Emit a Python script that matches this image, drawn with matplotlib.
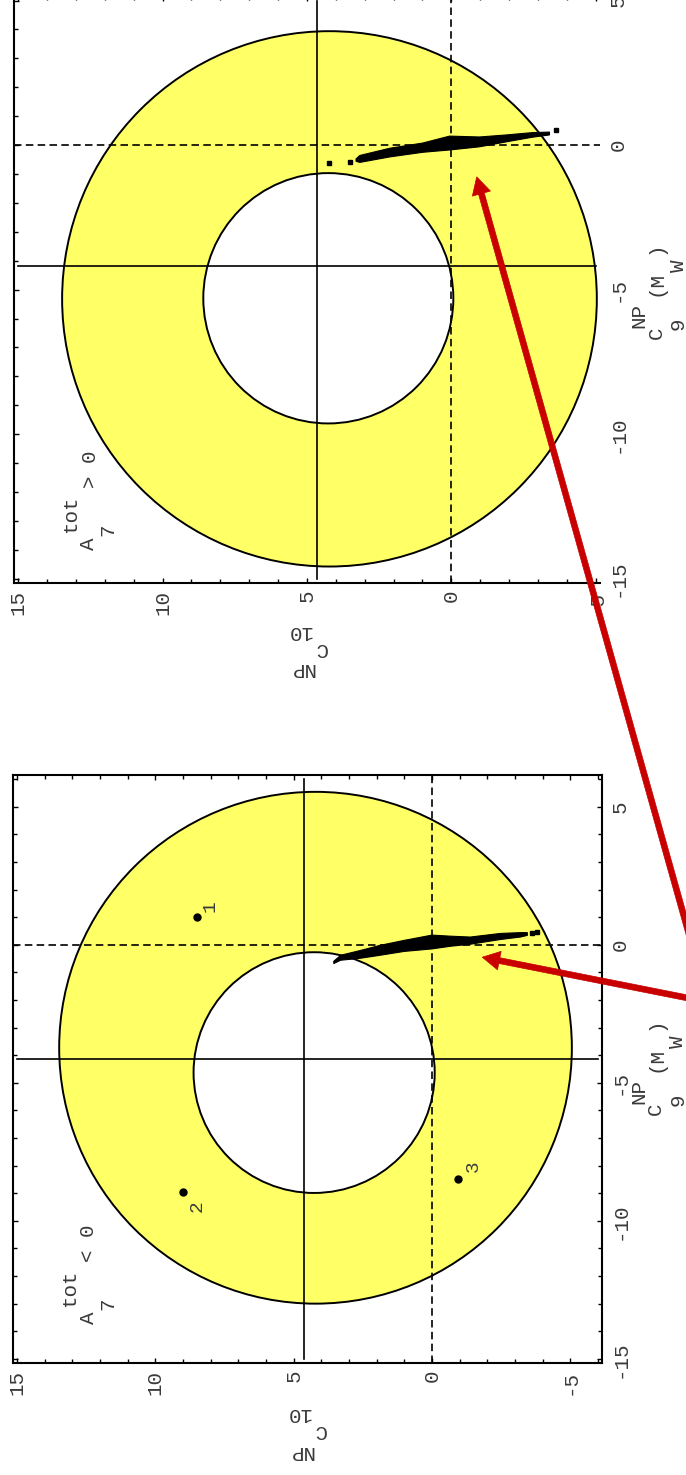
import numpy as np
import matplotlib
matplotlib.use("Agg")
import matplotlib.pyplot as plt
from matplotlib.patches import Circle, Polygon, ArrowStyle
from matplotlib.ticker import FixedLocator, MultipleLocator

plt.rcParams['font.family'] = ['Liberation Mono', 'DejaVu Sans Mono']
plt.rcParams['axes.unicode_minus'] = False

# ---- axis ticks -------------------------------------------------------
c9_ticks = [-15, -10, -5, 0, 5]
c10_ticks = [15, 10, 5, 0, -5]

# ---- panel with A7tot < 0 (lower) -------------------------------------
neg_c10_range = [-6, 15]
neg_c9_range = [-15, 6]
neg_outer = (4.21, -3.73, 9.27)      # (C10, C9, radius)
neg_inner = (4.26, -4.63, 4.36)
neg_sm = (4.63, -4.15)               # solid cross lines (C10, C9)
neg_band_c10 = [3.55, 3.3, 2.6, 1.87, 1.0, 0.0, -0.7, -1.39, -2.47, -3.2, -3.45]
neg_band_c9 = [-0.64, -0.47, -0.35, -0.2, -0.04, 0.1, 0.13, 0.15, 0.3, 0.36, 0.39]
neg_band_hw = [0.04, 0.09, 0.14, 0.18, 0.2, 0.25, 0.18, 0.13, 0.11, 0.08, 0.05]
neg_dots_c10 = [-3.62, -3.8]
neg_dots_c9 = [0.42, 0.46]
bench_c10 = [8.51, 9.0, -0.96]
bench_c9 = [0.99, -8.96, -8.5]
bench_names = ['1', '2', '3']
bench_offsets = [(10, 8.5), (10, -10), (11, 9.5)]

# ---- panel with A7tot > 0 (upper) -------------------------------------
pos_c10_range = [-5, 15]
pos_c9_range = [-15, 5]
pos_outer = (4.22, -5.32, 9.26)
pos_inner = (4.26, -5.3, 4.33)
pos_sm = (4.64, -4.2)
pos_band_c10 = [3.3, 3.17, 2.13, 0.99, 0.06, -0.98, -1.9, -2.8, -3.4]
pos_band_c9 = [-0.52, -0.48, -0.26, -0.09, 0.07, 0.11, 0.23, 0.35, 0.4]
pos_band_hw = [0.04, 0.12, 0.15, 0.16, 0.24, 0.17, 0.12, 0.08, 0.05]
pos_dots_c10 = [4.24, 3.5, -3.64]
pos_dots_c9 = [-0.62, -0.6, 0.52]

YELLOW = '#ffff66'
TXT = '#3a3a3a'
RED = '#c80000'
FS = 15

fig = plt.figure(figsize=(6.86, 14.75), dpi=100)
W, H = 686.0, 1475.0


def add_axes_px(left, top, right, bottom):
    return fig.add_axes([left / W, (H - bottom) / H, (right - left) / W, (bottom - top) / H])


def draw_panel(ax, c10_range, c9_range, outer, inner, sm, bc10, bc9, bhw,
               dc10, dc9, right_frame=True):
    pad = 0.15
    ax.set_xlim(c10_range[1] + pad, c10_range[0] - pad)
    ax.set_ylim(c9_range[0] - pad, c9_range[1] + pad)

    ax.add_patch(Circle((outer[0], outer[1]), outer[2], facecolor=YELLOW,
                        edgecolor='black', lw=1.4, zorder=1))
    ax.add_patch(Circle((inner[0], inner[1]), inner[2], facecolor='white',
                        edgecolor='black', lw=1.4, zorder=2))

    ax.plot([sm[0], sm[0]], c9_range, color='black', lw=1.2, zorder=3)
    ax.plot(c10_range, [sm[1], sm[1]], color='black', lw=1.2, zorder=3)
    dash = (0, (4.5, 2.6))
    ax.axhline(0, color='black', lw=1.2, ls=dash, zorder=3)
    ax.axvline(0, color='black', lw=1.2, ls=dash, zorder=3)

    bc10 = np.asarray(bc10)
    bc9 = np.asarray(bc9)
    bhw = np.asarray(bhw)
    verts = np.vstack([np.column_stack([bc10, bc9 + bhw]),
                       np.column_stack([bc10[::-1], (bc9 - bhw)[::-1]])])
    ax.add_patch(Polygon(verts, closed=True, facecolor='black',
                         edgecolor='black', lw=0.8, zorder=4))
    ax.plot(dc10, dc9, 's', color='black', ms=3, zorder=4)

    ax.xaxis.set_major_locator(FixedLocator(c10_ticks))
    ax.xaxis.set_minor_locator(MultipleLocator(1))
    ax.yaxis.set_major_locator(FixedLocator(c9_ticks))
    ax.yaxis.set_minor_locator(MultipleLocator(1))
    ax.set_xticklabels([str(v) for v in c10_ticks])
    ax.set_yticklabels([str(v) for v in c9_ticks])
    ax.tick_params(which='both', direction='in', top=True, bottom=True,
                   left=True, right=right_frame, labelleft=False,
                   labelright=True, labeltop=False, labelbottom=True,
                   width=1.0, color='black', labelsize=FS, labelcolor=TXT)
    ax.tick_params(which='major', length=3.8)
    ax.tick_params(which='minor', length=3.0)
    ax.tick_params(axis='x', labelrotation=90, pad=5)
    ax.tick_params(axis='y', labelrotation=90, pad=6)
    for lab in ax.get_yticklabels():
        lab.set_va('center')
    for sp in ax.spines.values():
        sp.set_linewidth(1.5)
    if not right_frame:
        ax.spines['right'].set_visible(False)


def pieces(ax, anchor, items, rotation):
    for txt, dx, dy in items:
        ax.annotate(txt, xy=anchor, xycoords='axes fraction', xytext=(dx, dy),
                    textcoords='offset points', rotation=rotation,
                    ha='center', va='center', fontsize=FS, color=TXT,
                    annotation_clip=False)


c9_label = [('C', 0, 0), ('NP', -12.1, 12.5), ('9', 16, 6.5),
            ('(M', 0, 35.6), ('W', 16, 48.2), (')', 0, 61.2)]
c10_label = [('C', 0, 0), ('NP', -13.7, -15.1), ('10', -15.8, 12.2)]

# upper panel: A7tot > 0
ax_top = add_axes_px(13.9, -3.8, 600.0, 583.0)
draw_panel(ax_top, pos_c10_range, pos_c9_range, pos_outer, pos_inner, pos_sm,
           pos_band_c10, pos_band_c9, pos_band_hw, pos_dots_c10, pos_dots_c9,
           right_frame=False)
pieces(ax_top, (0.128, 0.0665),
       [('A', 0, 0), ('7', 14, 10.5), ('tot', -13.5, 21.5), ('> 0', 1, 53.5)], 90)
pieces(ax_top, (1.0955, 0.426), c9_label, 90)
pieces(ax_top, (0.524, -0.1108), c10_label, 180)

# lower panel: A7tot < 0
ax_bot = add_axes_px(13.0, 775.0, 602.0, 1363.0)
draw_panel(ax_bot, neg_c10_range, neg_c9_range, neg_outer, neg_inner, neg_sm,
           neg_band_c10, neg_band_c9, neg_band_hw, neg_dots_c10, neg_dots_c9)
ax_bot.plot(bench_c10, bench_c9, 'o', color='black', ms=5, zorder=5)
for name, x, y, off in zip(bench_names, bench_c10, bench_c9, bench_offsets):
    ax_bot.annotate(name, xy=(x, y), xytext=off, textcoords='offset points',
                    rotation=90, ha='center', va='center', fontsize=FS - 1,
                    color=TXT)
pieces(ax_bot, (0.1282, 0.0765),
       [('A', 0, 0), ('7', 14, 10.5), ('tot', -13.5, 21.5), ('< 0', 0, 53.5)], 90)
pieces(ax_bot, (1.0913, 0.432), c9_label, 90)
pieces(ax_bot, (0.5212, -0.114), c10_label, 180)

# red arrows from a common origin towards the allowed bands
arrow_tail = (708 / W, 1 - 1002 / H)
style = ArrowStyle('simple', head_length=12.5, head_width=13.5, tail_width=4.2)
for ax, tip in [(ax_bot, (-1.82, -0.45)), (ax_top, (-0.88, -1.1))]:
    ax.annotate('', xy=tip, xycoords='data', xytext=arrow_tail,
                textcoords='figure fraction', annotation_clip=False, zorder=10,
                arrowprops=dict(arrowstyle=style, mutation_scale=1,
                                facecolor=RED, edgecolor=RED, lw=0.5,
                                shrinkA=0, shrinkB=0))

fig.savefig('out.png', dpi=100)
